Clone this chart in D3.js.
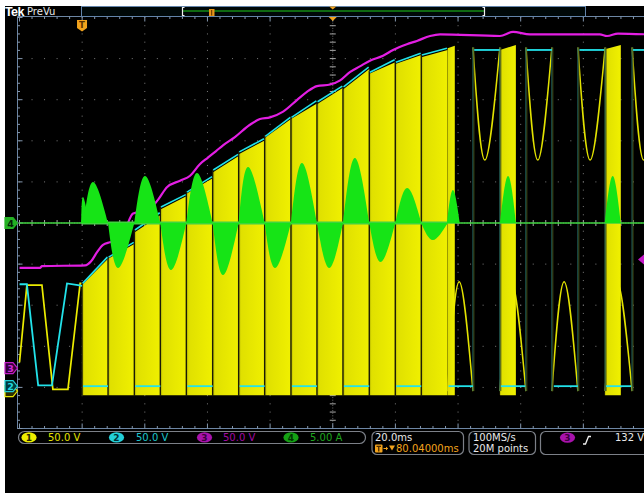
<!DOCTYPE html>
<html><head><meta charset="utf-8">
<script src="https://cdn.jsdelivr.net/npm/d3@7"></script>
<style>html,body{margin:0;padding:0;background:#fff;}svg{display:block;}</style>
</head><body>
<svg id="c" width="644" height="493"></svg>
<script>
// ---------------- data ----------------
const timeDomain = [-19.96, 180.04];          // ms across the screen (20 ms/div, delay 80.04 ms)
const voltsPerDiv = [50, 50, 50, 5];           // ch1..ch4
const channelOffsetDiv = [-4.09, -3.97, -3.53, 0];
const channelLabels = ["50.0 V", "50.0 V", "50.0 V", "5.00 A"];
const channelNames = ["1", "2", "3", "4"];

// ch1 (yellow) slow switching before t=0 : [ms, V]
const ch1Lead = [[-19.96, 35], [-17.6, 129], [-12.8, 129], [-9.3, 2], [-4.5, 2], [-0.6, 131], [0, 131]];
// ch1 dense PWM half-cycle segments: [tStart, tEnd, topStart V, topEnd V]
const ch1Segments = [
  [0, 8.3, 129, 161], [8.3, 16.7, 161, 179], [16.7, 25.0, 193, 214], [25.0, 33.3, 221, 237],
  [33.3, 41.7, 240, 259], [41.7, 50.0, 266, 286], [50.0, 58.3, 288, 305], [58.3, 66.7, 308, 331],
  [66.7, 75.0, 331, 350], [75.0, 83.3, 349, 369], [83.3, 91.7, 367, 392], [91.7, 100.0, 386, 400],
  [100.0, 108.3, 398, 409], [108.3, 116.7, 406, 415]
];
const ch1Blocks = [[116.7, 119.0, 417, 420], [133.4, 138.5, 415, 421], [166.9, 172.0, 416, 421]];
const ch1Low = -5;
// rectified humps from ground: [tStart, tPeak, tEnd, peak V]
const ch1Humps = [[116.7, 120.4, 124.8, 133], [133.4, 137.1, 141.7, 133], [150.0, 153.9, 158.3, 133], [167.0, 170.8, 175.6, 133]];
// dips from the bus: [tStart, tBottom, tEnd, top V, bottom V]
const ch1Dips = [[124.8, 128.6, 133.4, 418, 281], [141.7, 145.5, 150.0, 418, 281], [158.3, 162.2, 167.0, 418, 281], [175.6, 179.3, 184.0, 418, 281]];
const transitions = [124.8, 133.4, 141.7, 150.0, 158.3, 167.0, 175.6];

// ch2 (cyan)
const ch2Lead = [[-19.96, 124], [-17.6, 124], [-14.0, 1], [-9.6, 1], [-4.8, 125], [-1.3, 123], [0, 122]];
const ch2Top = [[125, 157], [157, 175], [190, 211], [218, 233], [236, 255], [263, 282], [285, 301],
  [304, 327], [327, 347], [346, 365], [364, 388], [382, 397], [394, 405], [403, 411]];
const ch2LowSpans = [[0, 8.3], [16.7, 25.0], [33.3, 41.7], [50.0, 58.3], [66.7, 75.0], [83.3, 91.7], [100.0, 108.3],
  [116.7, 124.8], [133.4, 141.5], [150.3, 158.3], [167.0, 175.3]];
const ch2HighSpans = [[125.2, 133.3], [142.0, 150.0], [158.8, 166.7], [175.9, 180.04]];
const ch2HighLevel = 409;

// ch3 (magenta) DC bus : [ms, V]
const ch3Bus = [[-19.96, 122], [-13.4, 122], [-12.8, 124], [1.0, 125], [2.9, 130], [4.8, 141], [6.7, 150],
  [8.9, 153], [11.5, 156], [14.0, 171], [16.3, 188], [21.1, 192], [24.3, 205], [27.1, 220], [31.3, 228],
  [34.5, 234], [37.6, 248], [40.2, 256], [42.8, 264], [45.0, 271], [48.8, 281], [53.6, 296], [56.8, 303], [60.0, 305],
  [64.2, 312], [68.6, 326], [71.8, 336], [75.0, 343], [79.2, 345], [82.4, 350], [85.5, 360], [88.7, 367],
  [91.9, 374], [96.1, 380], [99.3, 387], [103.7, 394], [106.9, 398], [111.1, 404], [114.3, 406],
  [133.4, 404], [137.6, 409], [143.0, 406], [165.3, 406], [167.6, 404], [171.1, 407], [180.04, 406]];
const triggerLevel = 132;

// ch4 (green) current lobes: [tStart, tEnd, tPeak, peak A]
const ch4Lobes = [[-0.3, 2.2, 0.3, 3.16], [0.5, 8.3, 3.5, 4.99], [8.3, 16.7, 11.5, -5.47], [16.7, 25.0, 20.1, 5.72],
  [25.0, 33.3, 28.4, -5.72], [33.3, 41.7, 36.7, 6.08], [41.7, 50.0, 45.0, -6.33], [50.0, 58.3, 53.0, 6.81],
  [58.3, 66.7, 61.6, -5.47], [66.7, 75.0, 70.2, 7.30], [75.0, 83.3, 78.9, -5.47], [83.3, 91.7, 87.1, 7.91],
  [91.7, 100.0, 95.3, -4.74], [100.0, 108.3, 103.8, 4.26], [108.3, 116.7, 112.0, -2.07], [116.5, 120.6, 118.4, 4.01],
  [133.4, 138.5, 136.0, 5.72], [166.9, 172.0, 169.4, 5.72]];
const ch4BandSpan = [0, 116.7];

const timebaseText = ["20.0ms", "80.04000ms"];
const acqText = ["100MS/s", "20M points"];
const triggerText = "132 V";

// ---------------- drawing ----------------
const W = 644, H = 493;
const X0 = 19.5, X1 = 646, Y0 = 17.5, Y1 = 428.5;
const x = d3.scaleLinear().domain(timeDomain).range([X0, X1]);
const xd = d3.scaleLinear().domain([0, 10]).range([X0, X1]);
const div = d3.scaleLinear().domain([-5, 5]).range([Y1, Y0]);
const yc = ch => v => div(v / voltsPerDiv[ch] + channelOffsetDiv[ch]);
const y1 = yc(0), y2 = yc(1), y3 = yc(2), y4 = yc(3);

const COL = {y: "#ecec00", c: "#22e2ea", m: "#e31ee3", g: "#1de51d", o: "#f2a31c"};
const svg = d3.select("#c");
svg.append("rect").attr("width", W).attr("height", H).attr("fill", "#fff");
svg.append("rect").attr("x", 5).attr("y", 6).attr("width", W - 5).attr("height", H - 6).attr("fill", "#000");

const defs = svg.append("defs");
defs.append("clipPath").attr("id", "plot").append("rect").attr("x", 18).attr("y", 17).attr("width", 628).attr("height", 411);
const grad = defs.append("linearGradient").attr("id", "seg").attr("x1", 0).attr("x2", 1).attr("y1", 0).attr("y2", 0);
grad.append("stop").attr("offset", "0%").attr("stop-color", "#b0b000");
grad.append("stop").attr("offset", "9%").attr("stop-color", "#e0e000");
grad.append("stop").attr("offset", "100%").attr("stop-color", "#f0f000");

// ---- graticule
const g = svg.append("g");
const minorY = d3.range(0, 51).map(i => -5 + i * 0.2);
const minorX = d3.range(0, 51).map(i => i * 0.2);
for (let k = 1; k < 10; k++) {
  if (k === 5) continue;
  minorY.forEach(v => g.append("rect").attr("x", xd(k) - 0.5).attr("y", div(v) - 0.5).attr("width", 1).attr("height", 1).attr("fill", "#7c7c7c"));
  minorX.forEach(v => g.append("rect").attr("x", xd(v) - 0.5).attr("y", div(k - 5) - 0.5).attr("width", 1).attr("height", 1).attr("fill", "#7c7c7c"));
}
// center crosshair
g.append("line").attr("x1", xd(5)).attr("x2", xd(5)).attr("y1", Y0).attr("y2", Y1).attr("stroke", "#6a6a6a").attr("stroke-dasharray", "1,1.6");
g.append("line").attr("x1", X0).attr("x2", 644).attr("y1", div(0)).attr("y2", div(0)).attr("stroke", "#6a6a6a").attr("stroke-dasharray", "1,1.6");
minorY.forEach(v => g.append("line").attr("x1", xd(5) - 3).attr("x2", xd(5) + 3).attr("y1", div(v)).attr("y2", div(v)).attr("stroke", "#a8a8a8"));
minorX.forEach(v => g.append("line").attr("x1", xd(v)).attr("x2", xd(v)).attr("y1", div(0) - 3).attr("y2", div(0) + 3).attr("stroke", "#a8a8a8"));
// frame + edge ticks
const fr = "#6d86a4";
g.append("line").attr("x1", 17.5).attr("x2", 17.5).attr("y1", 16.5).attr("y2", 429).attr("stroke", fr);
g.append("line").attr("x1", 17.5).attr("x2", 644).attr("y1", 16.5).attr("y2", 16.5).attr("stroke", fr);
g.append("line").attr("x1", 17.5).attr("x2", 644).attr("y1", 428.5).attr("y2", 428.5).attr("stroke", fr);
minorX.forEach((v, i) => {
  const L = i % 5 === 0 ? 5 : 2.5;
  g.append("line").attr("x1", xd(v)).attr("x2", xd(v)).attr("y1", 16.5).attr("y2", 16.5 + L).attr("stroke", "#8497ae");
  g.append("line").attr("x1", xd(v)).attr("x2", xd(v)).attr("y1", 428.5).attr("y2", 428.5 - L).attr("stroke", "#8497ae");
});
minorY.forEach((v, i) => {
  const L = i % 5 === 0 ? 5 : 2.5;
  g.append("line").attr("x1", 17.5).attr("x2", 17.5 + L).attr("y1", div(v)).attr("y2", div(v)).attr("stroke", "#8497ae");
});

// ---- traces
const P = svg.append("g").attr("clip-path", "url(#plot)");
const line = (ys, curve) => d3.line().x(d => x(d[0])).y(d => ys(d[1])).curve(curve || d3.curveLinear);

// ch1 yellow
P.append("path").attr("d", line(y1)(ch1Lead)).attr("fill", "none").attr("stroke", COL.y).attr("stroke-width", 1.7);
const yArea = d3.area().x(d => x(d[0])).y0(y1(ch1Low)).y1(d => y1(d[1]));
ch1Segments.forEach(s => {
  P.append("path").attr("d", yArea([[s[0], s[2]], [s[1], s[3]]])).attr("fill", "url(#seg)");
});
ch1Humps.forEach(h => P.append("path").attr("d", line(y1, d3.curveNatural)([[h[0], 0], [h[1], h[3]], [h[2], 0]]))
  .attr("fill", "none").attr("stroke", "#e2e200").attr("stroke-width", 1.5));
ch1Dips.forEach(h => P.append("path").attr("d", line(y1, d3.curveNatural)([[h[0], h[3]], [h[1], h[4]], [h[2], h[3]]]))
  .attr("fill", "none").attr("stroke", "#e2e200").attr("stroke-width", 1.5));
ch1Blocks.forEach(s => P.append("path").attr("d", yArea([[s[0], s[2]], [s[1], s[3]]])).attr("fill", "url(#seg)"));
// gaps between PWM half-cycles
ch1Segments.forEach(s => {
  P.append("line").attr("x1", x(s[0])).attr("x2", x(s[0])).attr("y1", y1(ch1Low) + 1).attr("y2", y1(s[2]) - 3)
    .attr("stroke", "#1b1b05").attr("stroke-width", 1.4);
});
// dim transition edges
transitions.forEach(t => {
  P.append("line").attr("x1", x(t)).attr("x2", x(t)).attr("y1", y1(0)).attr("y2", y1(418)).attr("stroke", "#1e5e5c").attr("stroke-width", 1.2);
  P.append("line").attr("x1", x(t) + 1).attr("x2", x(t) + 1).attr("y1", y1(0)).attr("y2", y1(418)).attr("stroke", "#4a4e0e").attr("stroke-width", 0.8);
});

// ch2 cyan
P.append("path").attr("d", line(y2)(ch2Lead)).attr("fill", "none").attr("stroke", COL.c).attr("stroke-width", 1.8);
ch1Segments.forEach((s, i) => {
  P.append("path").attr("d", line(y2)([[s[0] + 0.2, ch2Top[i][0]], [s[1] - 0.2, ch2Top[i][1]]]))
    .attr("fill", "none").attr("stroke", COL.c).attr("stroke-width", 1.6);
});
ch2LowSpans.forEach(s => P.append("path").attr("d", line(y2)([[s[0] + 0.3, 0], [s[1], 0]])).attr("fill", "none").attr("stroke", COL.c).attr("stroke-width", 1.8));
ch2HighSpans.forEach(s => P.append("path").attr("d", line(y2)([[s[0], ch2HighLevel], [s[1], ch2HighLevel]])).attr("fill", "none").attr("stroke", COL.c).attr("stroke-width", 1.8));

// ch3 magenta
P.append("path").attr("d", line(y3, d3.curveMonotoneX)(ch3Bus)).attr("fill", "none").attr("stroke", COL.m).attr("stroke-width", 2.2);

// ch4 green
P.append("path").attr("d", line(y4)([[timeDomain[0], 0], [timeDomain[1], 0]])).attr("stroke", "#3fd23f").attr("stroke-width", 1.6);
P.append("path").attr("d", line(y4)([[ch4BandSpan[0], 0], [ch4BandSpan[1], 0]])).attr("stroke", "#3ed43e").attr("stroke-width", 3.2);
const gArea = d3.area().x(d => x(d[0])).y0(y4(0)).y1(d => y4(d[1])).curve(d3.curveNatural);
ch4Lobes.forEach(l => P.append("path").attr("d", gArea([[l[0], 0], [l[2], l[3]], [l[1], 0]])).attr("fill", "#16e416"));

// ---- markers
const txt = (s, xx, yy, fill, size, opts) => {
  const t = svg.append("text").attr("x", xx).attr("y", yy).attr("fill", fill)
    .attr("font-family", (opts && opts.family) || "DejaVu Sans").attr("font-size", size).text(s);
  if (opts && opts.anchor) t.attr("text-anchor", opts.anchor);
  if (opts && opts.weight) t.attr("font-weight", opts.weight);
  if (opts && opts.ls) t.attr("letter-spacing", opts.ls);
  return t;
};
const chMarker = (cy, stroke, fill, tcol, label) => {
  svg.append("path").attr("d", `M5,${cy - 5.5}H13L17.5,${cy}L13,${cy + 5.5}H5Z`).attr("fill", fill).attr("stroke", stroke).attr("stroke-width", 1.2);
  if (label) txt(label, 10.5, cy + 3.5, tcol, 9.5, {anchor: "middle", weight: "bold"});
};
chMarker(y1(0), "#e6e600", "#2e2e00", "#e6e600", null);   // ch1 marker lies under ch2's
chMarker(y2(0), "#22d0d8", "#003a3e", "#22d8e0", "2");
chMarker(y3(0), "#c21cc6", "#34003a", "#d22ad6", "3");
chMarker(y4(0), "#23b123", "#23b123", "#062006", "4");
// trigger level marker (right edge)
const tl = y3(triggerLevel);
svg.append("path").attr("d", `M638,${tl}L644,${tl - 5}L644,${tl + 5}Z`).attr("fill", "#c416c8");
// trigger position marker
svg.append("path").attr("d", `M${x(0) - 5},20H${x(0) + 5}V28L${x(0)},31.5L${x(0) - 5},28Z`).attr("fill", COL.o);
txt("T", x(0), 28, "#5a3000", 8.5, {anchor: "middle", weight: "bold"});
// expansion marker
svg.append("path").attr("d", `M${xd(5) - 4},17H${xd(5) + 4}L${xd(5)},21Z`).attr("fill", COL.o);

// ---- top bar
txt("Tek", 5, 15.5, "#ffffff", 12.5, {family: "Liberation Sans", weight: "bold", ls: -0.6});
txt("PreVu", 27, 15, "#e8e8e8", 10);
svg.append("rect").attr("x", 81.5).attr("y", 6.5).attr("width", 504).attr("height", 10).attr("fill", "#000808").attr("stroke", "#6384aa");
svg.append("line").attr("x1", 183).attr("x2", 484).attr("y1", 11).attr("y2", 11).attr("stroke", "#158a15").attr("stroke-width", 1.5);
[182.5, 484.5].forEach((bx, i) => {
  svg.append("path").attr("d", i === 0 ? `M${bx + 2},7.5H${bx}V15.5H${bx + 2}` : `M${bx - 2},7.5H${bx}V15.5H${bx - 2}`)
    .attr("fill", "none").attr("stroke", "#f0f0f0").attr("stroke-width", 1.2);
});
svg.append("rect").attr("x", 209).attr("y", 9).attr("width", 5.5).attr("height", 7).attr("fill", "#e8961a");
svg.append("line").attr("x1", 211.7).attr("x2", 211.7).attr("y1", 10).attr("y2", 15.5).attr("stroke", "#5a3300");
svg.append("path").attr("d", `M${xd(5) - 3.5},6.5H${xd(5) + 3.5}L${xd(5)},9.5Z`).attr("fill", COL.o);

// ---- bottom readouts
const box = (bx, by, bw, bh, r) => svg.append("rect").attr("x", bx).attr("y", by).attr("width", bw).attr("height", bh).attr("rx", r).attr("fill", "none").attr("stroke", "#7c8088").attr("stroke-width", 1.2);
box(18.5, 431.5, 347, 12, 6);
box(372, 431.5, 91.5, 23, 5);
box(469, 431.5, 66.5, 23, 5);
box(540.5, 431.5, 120, 23, 5);
const badgeFill = ["#eeee00", "#22cfd8", "#a812ac", "#14a014"];
const badgeText = ["#262600", "#003034", "#3a003c", "#003300"];
const legendText = ["#e2e200", "#1cc4cc", "#a00aa4", "#1ea41e"];
const badgeX = [29, 116.5, 204.5, 291];
const labelX = [48, 136, 223, 310];
channelNames.forEach((n, i) => {
  svg.append("ellipse").attr("cx", badgeX[i]).attr("cy", 437.4).attr("rx", 7.6).attr("ry", 5.2).attr("fill", badgeFill[i]);
  txt(n, badgeX[i], 440.8, badgeText[i], 9, {anchor: "middle", weight: "bold"});
  txt(channelLabels[i], labelX[i], 441.2, legendText[i], 10);
});
txt(timebaseText[0], 375, 441, "#e8e8e8", 10);
svg.append("rect").attr("x", 375).attr("y", 444.5).attr("width", 7.5).attr("height", 8).attr("rx", 1).attr("fill", COL.o);
svg.append("path").attr("d", "M376.5,446.3H381M378.75,446.3V451.5").attr("stroke", "#4a2a00").attr("stroke-width", 1.3);
svg.append("path").attr("d", "M383.5,448.5H387.5M386,447L387.7,448.5L386,450").attr("stroke", COL.o).attr("fill", "none").attr("stroke-width", 1);
svg.append("path").attr("d", "M389,445.5H395L392,450.5Z").attr("fill", COL.o);
txt(timebaseText[1], 396, 452, COL.o, 10);
txt(acqText[0], 473, 441, "#e8e8e8", 10);
txt(acqText[1], 473, 452, "#e8e8e8", 10);
svg.append("ellipse").attr("cx", 567.5).attr("cy", 437.6).attr("rx", 7.6).attr("ry", 5.2).attr("fill", badgeFill[2]);
txt("3", 567.5, 441, badgeText[2], 9, {anchor: "middle", weight: "bold"});
svg.append("path").attr("d", "M583,444H585.5L588.5,436.5H591").attr("fill", "none").attr("stroke", "#f0f0f0").attr("stroke-width", 1.3);
txt(triggerText, 615, 441.2, "#e8e8e8", 10);
</script>
</body></html>
